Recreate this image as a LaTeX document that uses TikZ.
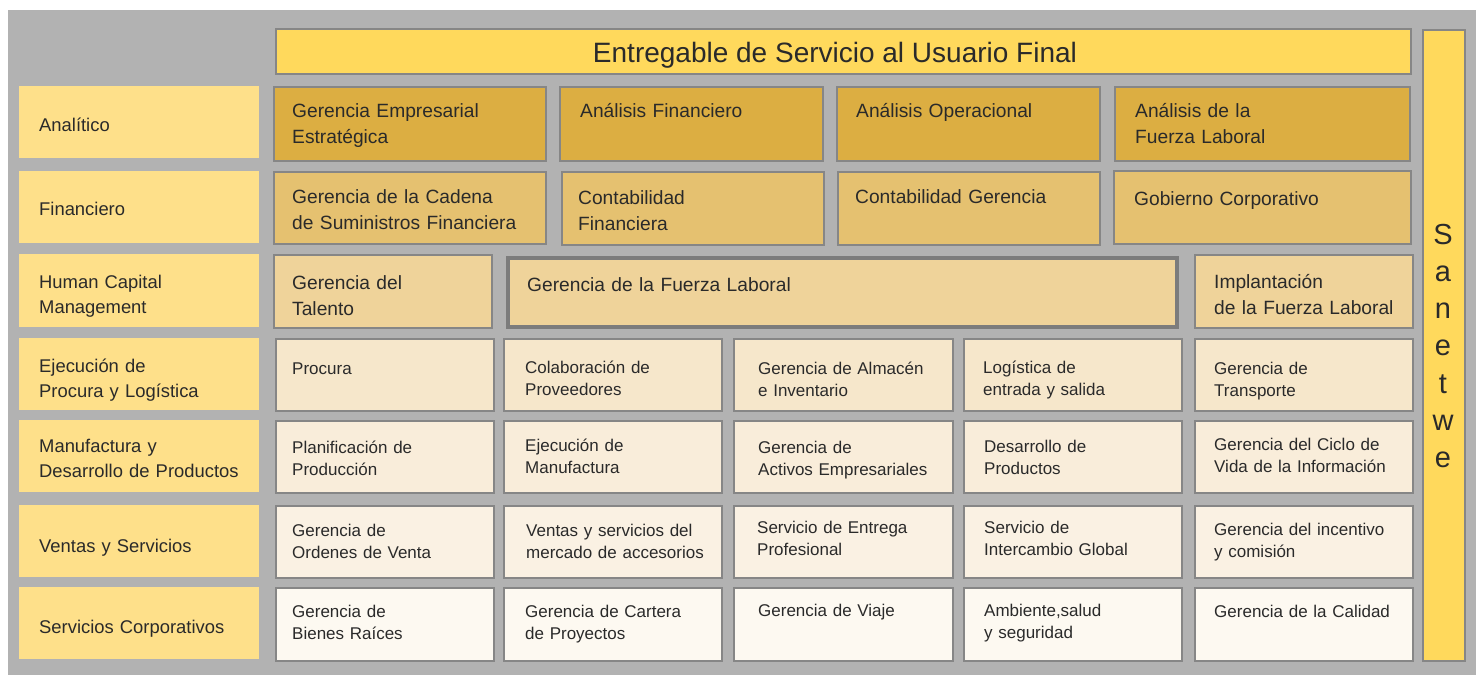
\documentclass[tikz,border=0pt]{standalone}
\usepackage{fontspec}
\setmainfont{Liberation Sans}
\definecolor{bggray}{HTML}{B2B2B2}
\definecolor{bord}{HTML}{868686}
\definecolor{bordk}{HTML}{7C7C7C}
\definecolor{ttl}{HTML}{FFD95C}
\definecolor{labc}{HTML}{FEE08A}
\definecolor{cA}{HTML}{DCAE42}
\definecolor{cB}{HTML}{E5C170}
\definecolor{cC}{HTML}{EFD39A}
\definecolor{cD}{HTML}{F6E7CB}
\definecolor{cE}{HTML}{F9EDDA}
\definecolor{cF}{HTML}{FAF1E3}
\definecolor{cG}{HTML}{FDF9F1}
\definecolor{ink}{HTML}{2A2A2A}
\newcommand\cellbox[9]{%
  \node[cellbase,#6box,minimum width={#4-#2},minimum height={#5-#3}] (#1) at (#2,#3) {};
  \node[#6txt] (#1t) at (#7,#8) {#9};}
\newcommand\labbox[5]{%
  \node[labbase,minimum height={#3-#2}] (#1) at (19,#2) {};
  \node[labtxt] (#1t) at (39,#4) {#5};}
\begin{document}
\begin{tikzpicture}[x=1pt,y=-1pt,
  cellbase/.style={draw=bord,line width=2pt,anchor=north west,inner sep=0pt},
  txtbase/.style={text=ink,anchor=base west,inner sep=0pt,text width=300pt,align=left},
  bigtxt/.style={txtbase,font=\fontsize{19.2}{26}\selectfont},
  smalltxt/.style={txtbase,font=\fontsize{17}{22.5}\selectfont},
  rAbox/.style={fill=cA}, rAtxt/.style={bigtxt},
  rBbox/.style={fill=cB}, rBtxt/.style={bigtxt},
  rCbox/.style={fill=cC}, rCtxt/.style={bigtxt},
  rDbox/.style={fill=cD}, rDtxt/.style={smalltxt},
  rEbox/.style={fill=cE}, rEtxt/.style={smalltxt},
  rFbox/.style={fill=cF}, rFtxt/.style={smalltxt},
  rGbox/.style={fill=cG}, rGtxt/.style={smalltxt},
  labbase/.style={fill=labc,anchor=north west,inner sep=0pt,minimum width=240pt},
  labtxt/.style={txtbase,font=\fontsize{18.4}{25}\selectfont},
]
\useasboundingbox (0,0) rectangle (1476,675);
\node[fill=bggray,anchor=north west,inner sep=0pt,minimum width=1468pt,minimum height=665pt] (bg) at (8,10) {};

% title and side bar
\node[cellbase,fill=ttl,minimum width=1135pt,minimum height=45pt] (title) at (275,28) {};
\node[text=ink,anchor=base,inner sep=0pt,font=\fontsize{28}{30}\selectfont] (titlet) at (835,62) {Entregable de Servicio al Usuario Final};
\node[cellbase,fill=ttl,minimum width=42pt,minimum height=631pt] (side) at (1422,29) {};
\node[text=ink,anchor=base,inner sep=0pt,text width=40pt,align=center,font=\fontsize{29}{37.3}\selectfont] (sidet) at (1443,244) {S\\a\\n\\e\\t\\w\\e};

% row labels
\labbox{lA}{86}{158}{131}{Analítico}
\labbox{lB}{171}{243}{215}{Financiero}
\labbox{lC}{254}{327}{288}{Human Capital\\Management}
\labbox{lD}{338}{410}{372}{Ejecución de\\Procura y Logística}
\labbox{lE}{420}{492}{452}{Manufactura y\\Desarrollo de Productos}
\labbox{lF}{505}{577}{552}{Ventas y Servicios}
\labbox{lG}{587}{659}{633}{Servicios Corporativos}

% row A
\cellbox{a1}{273}{86}{545}{160}{rA}{292}{117}{Gerencia Empresarial\\Estratégica}
\cellbox{a2}{559}{86}{822}{160}{rA}{580}{117}{Análisis Financiero}
\cellbox{a3}{836}{86}{1099}{160}{rA}{856}{117}{Análisis Operacional}
\cellbox{a4}{1114}{86}{1409}{160}{rA}{1135}{117}{Análisis de la\\Fuerza Laboral}
% row B
\cellbox{b1}{273}{171}{545}{243}{rB}{292}{203}{Gerencia de la Cadena\\de Suministros Financiera}
\cellbox{b2}{561}{171}{823}{244}{rB}{578}{204}{Contabilidad\\Financiera}
\cellbox{b3}{837}{171}{1099}{244}{rB}{855}{203}{Contabilidad Gerencia}
\cellbox{b4}{1113}{170}{1410}{243}{rB}{1134}{205}{Gobierno Corporativo}
% row C
\cellbox{c1}{273}{254}{491}{327}{rC}{292}{289}{Gerencia del\\Talento}
\node[cellbase,rCbox,draw=bordk,line width=4pt,minimum width=669pt,minimum height=69pt] (c2) at (506,256) {};
\node[rCtxt] (c2t) at (527,291) {Gerencia de la Fuerza Laboral};
\cellbox{c3}{1194}{254}{1412}{327}{rC}{1214}{288}{Implantación\\de la Fuerza Laboral}
% row D
\cellbox{d1}{275}{338}{493}{410}{rD}{292}{374}{Procura}
\cellbox{d2}{503}{338}{721}{410}{rD}{525}{373}{Colaboración de\\Proveedores}
\cellbox{d3}{733}{338}{952}{410}{rD}{758}{374}{Gerencia de Almacén\\e Inventario}
\cellbox{d4}{963}{338}{1181}{410}{rD}{983}{373}{Logística de\\entrada y salida}
\cellbox{d5}{1194}{338}{1412}{410}{rD}{1214}{374}{Gerencia de\\Transporte}
% row E
\cellbox{e1}{275}{420}{493}{492}{rE}{292}{453}{Planificación de\\Producción}
\cellbox{e2}{503}{420}{721}{492}{rE}{525}{451}{Ejecución de\\Manufactura}
\cellbox{e3}{733}{420}{952}{492}{rE}{758}{453}{Gerencia de\\Activos Empresariales}
\cellbox{e4}{963}{420}{1181}{492}{rE}{984}{452}{Desarrollo de\\Productos}
\cellbox{e5}{1194}{420}{1412}{492}{rE}{1214}{450}{Gerencia del Ciclo de\\Vida de la Información}
% row F
\cellbox{f1}{275}{505}{493}{577}{rF}{292}{536}{Gerencia de\\Ordenes de Venta}
\cellbox{f2}{503}{505}{721}{577}{rF}{526}{536}{Ventas y servicios del\\mercado de accesorios}
\cellbox{f3}{733}{505}{952}{577}{rF}{757}{533}{Servicio de Entrega\\Profesional}
\cellbox{f4}{963}{505}{1181}{577}{rF}{984}{533}{Servicio de\\Intercambio Global}
\cellbox{f5}{1194}{505}{1412}{577}{rF}{1214}{535}{Gerencia del incentivo\\y comisión}
% row G
\cellbox{g1}{275}{587}{493}{660}{rG}{292}{617}{Gerencia de\\Bienes Raíces}
\cellbox{g2}{503}{587}{721}{660}{rG}{525}{617}{Gerencia de Cartera\\de Proyectos}
\cellbox{g3}{733}{587}{952}{660}{rG}{758}{616}{Gerencia de Viaje}
\cellbox{g4}{963}{587}{1181}{660}{rG}{984}{616}{Ambiente,salud\\y seguridad}
\cellbox{g5}{1194}{587}{1412}{660}{rG}{1214}{617}{Gerencia de la Calidad}
\end{tikzpicture}
\end{document}
